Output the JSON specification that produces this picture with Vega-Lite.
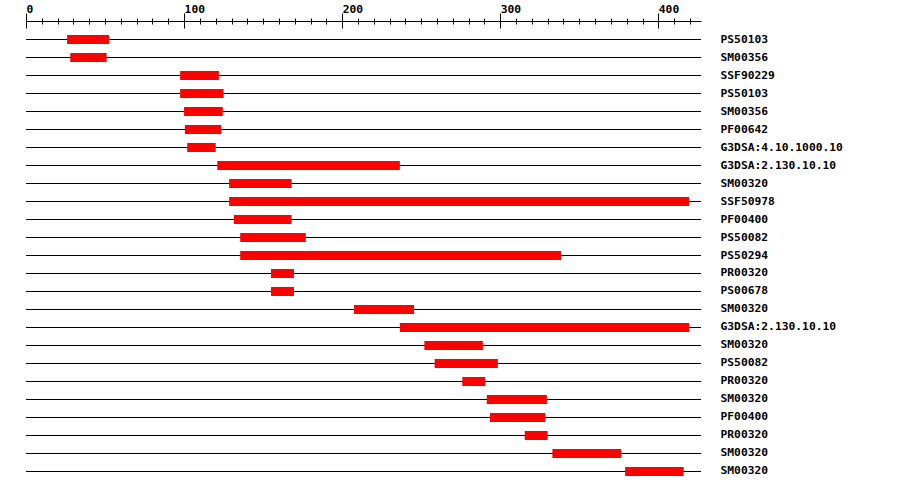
{
  "$schema": "https://vega.github.io/schema/vega-lite/v6.json",
  "width": 675,
  "height": 469,
  "autosize": {"type": "none"},
  "padding": {"left": 26, "top": 21, "right": 199, "bottom": 0},
  "background": "white",
  "config": {
    "view": {"stroke": null},
    "axis": {
      "labelFont": "DejaVu Sans Mono",
      "labelFontWeight": "bold",
      "labelFontSize": 11.3,
      "labelColor": "black",
      "domainColor": "black",
      "tickColor": "black",
      "grid": false,
      "title": null
    }
  },
  "data": {
    "values": [
      {"key": "01|PS50103", "start": 26, "end": 52.5},
      {"key": "02|SM00356", "start": 28, "end": 51},
      {"key": "03|SSF90229", "start": 97.5, "end": 122},
      {"key": "04|PS50103", "start": 97.5, "end": 125},
      {"key": "05|SM00356", "start": 100, "end": 124.5},
      {"key": "06|PF00642", "start": 100.5, "end": 123.5},
      {"key": "07|G3DSA:4.10.1000.10", "start": 102, "end": 120},
      {"key": "08|G3DSA:2.130.10.10", "start": 121, "end": 236.5},
      {"key": "09|SM00320", "start": 128.5, "end": 168},
      {"key": "10|SSF50978", "start": 128.5, "end": 419.5},
      {"key": "11|PF00400", "start": 131.5, "end": 168},
      {"key": "12|PS50082", "start": 135.5, "end": 177},
      {"key": "13|PS50294", "start": 135.5, "end": 338.5},
      {"key": "14|PR00320", "start": 155, "end": 169.5},
      {"key": "15|PS00678", "start": 155, "end": 169.5},
      {"key": "16|SM00320", "start": 207.5, "end": 245.5},
      {"key": "17|G3DSA:2.130.10.10", "start": 236.5, "end": 419.5},
      {"key": "18|SM00320", "start": 252, "end": 289},
      {"key": "19|PS50082", "start": 258.5, "end": 298.5},
      {"key": "20|PR00320", "start": 276, "end": 290.5},
      {"key": "21|SM00320", "start": 291.5, "end": 329.5},
      {"key": "22|PF00400", "start": 293.5, "end": 328.5},
      {"key": "23|PR00320", "start": 315.5, "end": 330},
      {"key": "24|SM00320", "start": 333, "end": 376.5},
      {"key": "25|SM00320", "start": 379, "end": 416}
    ]
  },
  "encoding": {
    "y": {
      "field": "key",
      "type": "nominal",
      "sort": "ascending",
      "scale": {"paddingInner": 0, "paddingOuter": 0.5278},
      "axis": {
        "orient": "right",
        "domain": false,
        "ticks": false,
        "labelPadding": 19,
        "labelAlign": "left",
        "labelBaseline": "middle",
        "labelExpr": "split(datum.value, '|')[1]",
        "title": null
      }
    }
  },
  "layer": [
    {
      "mark": {"type": "rule", "color": "black", "strokeWidth": 1},
      "encoding": {
        "x": {
          "datum": 0,
          "type": "quantitative",
          "scale": {"domain": [0, 427], "nice": false, "zero": false},
          "axis": {
            "orient": "top",
            "values": [0,10,20,30,40,50,60,70,80,90,100,110,120,130,140,150,160,170,180,190,200,210,220,230,240,250,260,270,280,290,300,310,320,330,340,350,360,370,380,390,400,410,420],
            "tickSize": 3,
            "tickWidth": 1,
            "domain": true,
            "domainWidth": 1,
            "labelPadding": 6,
            "labelAlign": "left",
            "labelBaseline": "alphabetic",
            "labelOverlap": false,
            "labelFlush": false,
            "labelBound": false,
            "labelExpr": "datum.value % 100 === 0 ? datum.label : ''",
            "title": null
          }
        },
        "x2": {"datum": 427}
      }
    },
    {
      "mark": {"type": "rule", "color": "black", "strokeWidth": 1},
      "encoding": {
        "x": {
          "datum": 0,
          "type": "quantitative",
          "scale": {"domain": [0, 427], "nice": false, "zero": false},
          "axis": {
            "orient": "top",
            "values": [0, 100, 200, 300, 400],
            "tickSize": 15,
            "tickWidth": 1,
            "offset": -7,
            "domain": false,
            "labels": false,
            "title": null
          }
        },
        "x2": {"datum": 427}
      }
    },
    {
      "mark": {"type": "bar", "color": "#ff0000", "height": 9},
      "encoding": {
        "x": {
          "field": "start",
          "type": "quantitative",
          "scale": {"domain": [0, 427], "nice": false, "zero": false},
          "axis": {
            "orient": "top",
            "values": [0,10,20,30,40,50,60,70,80,90,100,110,120,130,140,150,160,170,180,190,200,210,220,230,240,250,260,270,280,290,300,310,320,330,340,350,360,370,380,390,400,410,420],
            "tickSize": 3,
            "tickWidth": 1,
            "offset": -3,
            "domain": false,
            "labels": false,
            "title": null
          }
        },
        "x2": {"field": "end"}
      }
    }
  ],
  "resolve": {"axis": {"x": "independent"}}
}
